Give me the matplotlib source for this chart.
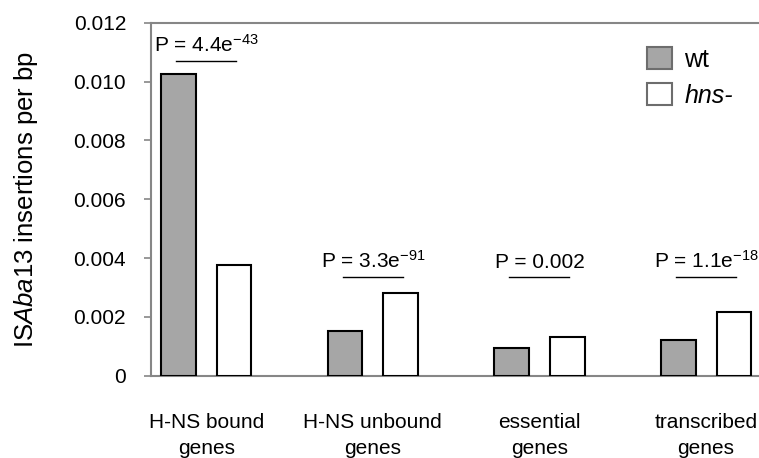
import matplotlib
matplotlib.use("Agg")
import matplotlib.pyplot as plt
from matplotlib.patches import Patch
import numpy as np

plt.rcParams['font.family'] = ['Liberation Sans', 'DejaVu Sans']
plt.rcParams['mathtext.fontset'] = 'custom'
plt.rcParams['mathtext.rm'] = 'Liberation Sans'
plt.rcParams['mathtext.it'] = 'Liberation Sans:italic'

# data
categories = ["H-NS bound\ngenes", "H-NS unbound\ngenes", "essential\ngenes", "transcribed\ngenes"]
wt = [0.01025, 0.00153, 0.00093, 0.00120]
hns = [0.00375, 0.00280, 0.00132, 0.00217]
p_labels = ["P = 4.4e$^{-43}$", "P = 3.3e$^{-91}$", "P = 0.002", "P = 1.1e$^{-18}$"]
p_heights = [0.01069, 0.00334, 0.00334, 0.00334]
yticks = [0, 0.002, 0.004, 0.006, 0.008, 0.010, 0.012]
ytick_labels = ["0", "0.002", "0.004", "0.006", "0.008", "0.010", "0.012"]

grey_fill = "#a6a6a6"
spine_col = "#868686"

fig = plt.figure(figsize=(7.59, 4.58), dpi=100)
ax = fig.add_axes([0.199, 0.1797, 0.801, 0.7707])

x = np.arange(len(categories))
w = 0.208
off = 0.167
ax.bar(x - off, wt, w, color=grey_fill, edgecolor="black", linewidth=1.5, zorder=3)
ax.bar(x + off, hns, w, color="white", edgecolor="black", linewidth=1.5, zorder=3)

ax.set_xlim(-0.331, 3.318)
ax.set_ylim(0, 0.012)
ax.set_yticks(yticks)
ax.set_yticklabels(ytick_labels)
ax.set_xticks(x)
ax.set_xticklabels(categories, linespacing=1.45)

ax.tick_params(axis='y', direction='out', length=5, width=1.2, color=spine_col,
               labelsize=15, pad=13)
ax.tick_params(axis='x', length=0, labelsize=15, pad=27)

for side in ['left', 'top', 'bottom']:
    ax.spines[side].set_color(spine_col)
    ax.spines[side].set_linewidth(1.5)
ax.spines['right'].set_visible(False)

# p-value brackets
for i, (lab, h) in enumerate(zip(p_labels, p_heights)):
    ax.plot([i - 0.18, i + 0.18], [h, h], color="black", linewidth=1.0, zorder=3)
    ax.text(i, h + 0.00032, lab, ha='center', va='baseline', fontsize=15)

fig.text(0.034, 0.565, "IS$\\it{Aba}$13 insertions per bp", rotation=90,
         ha='center', va='center', fontsize=18.5)

handles = [Patch(facecolor=grey_fill, edgecolor="#6d6d6d", linewidth=1.5),
           Patch(facecolor="white", edgecolor="#6d6d6d", linewidth=1.5)]
leg = fig.legend(handles, ["wt", "hns-"], loc='upper left',
                 bbox_to_anchor=(647 / 759, 1 - 47 / 458), frameon=False,
                 fontsize=18, handlelength=1.0, handleheight=1.0,
                 handletextpad=0.5, labelspacing=0.45, borderpad=0, borderaxespad=0)
leg.get_texts()[1].set_fontstyle('italic')

fig.savefig("out.png", dpi=100)
